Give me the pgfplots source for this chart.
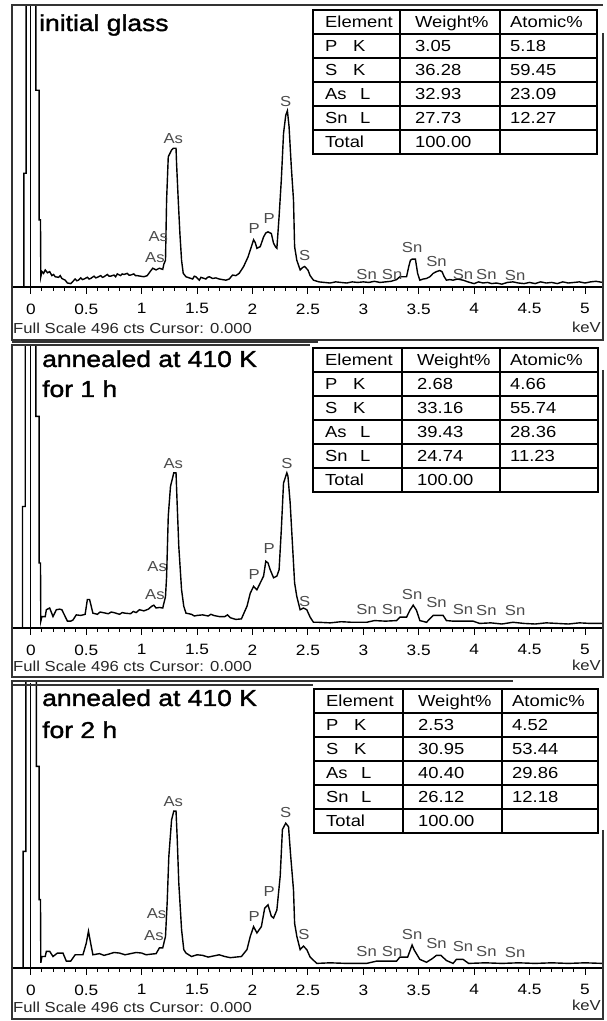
\documentclass[border=0pt]{standalone}
\usepackage{fontspec}
\setmainfont[FakeStretch=1.15]{Liberation Sans}
\newfontfamily\ttlfont[FakeStretch=1.15,FakeBold=1.5]{Liberation Sans}
\usepackage{pgfplots}
\pgfplotsset{compat=1.18}

\pgfplotstableread{
E c
-0.17 0
-0.063 0
-0.063 200
-0.042 200
-0.042 600
0.045 600
0.045 346
0.075 346
0.075 118
0.087 118
0.09 18
0.10 27
0.115 24
0.13 30
0.15 25
0.17 27
0.19 20
0.205 22
0.22 18
0.25 17
0.265 20
0.28 15
0.31 12
0.33 7
0.36 6
0.38 10
0.40 14
0.415 11
0.43 12
0.45 16
0.465 13
0.48 14
0.51 17
0.525 14
0.54 15
0.57 19
0.585 16
0.60 17
0.63 20
0.645 17
0.66 18
0.69 22
0.705 19
0.72 19
0.75 21
0.765 18
0.78 23
0.81 20
0.825 23
0.84 22
0.87 24
0.885 21
0.90 21
0.93 23
0.945 20
0.96 20
0.99 19
1.02 18
1.05 20
1.065 24
1.08 28
1.10 33
1.13 30
1.16 33
1.19 31
1.20 40
1.215 47
1.225 153
1.24 229
1.27 241
1.285 244
1.31 244
1.315 217
1.33 153
1.345 94
1.36 47
1.375 24
1.40 18
1.43 16
1.46 14
1.475 19
1.49 18
1.52 12
1.535 17
1.55 16
1.58 14
1.595 17
1.61 18
1.64 15
1.67 16
1.70 14
1.73 13
1.76 12
1.79 14
1.82 21
1.85 20
1.88 24
1.92 36
1.96 53
1.99 71
2.01 83
2.025 78
2.04 68
2.07 71
2.10 88
2.12 95
2.14 97
2.17 94
2.19 77
2.21 70
2.22 68
2.24 124
2.26 188
2.28 270
2.30 302
2.315 310
2.33 282
2.35 212
2.37 153
2.38 71
2.40 47
2.43 30
2.45 34
2.47 36
2.50 30
2.52 20
2.55 12
2.60 9
2.65 8
2.70 7
2.75 9
2.80 8
2.85 7
2.90 9
2.95 8
3.00 9
3.05 8
3.10 10
3.15 8
3.20 9
3.25 10
3.30 13
3.33 18
3.39 18
3.41 36
3.425 47
3.44 49
3.47 49
3.49 24
3.51 12
3.54 14
3.57 15
3.60 18
3.63 24
3.66 27
3.69 29
3.71 27
3.73 18
3.75 12
3.78 13
3.81 12
3.85 14
3.90 12
3.93 10
3.96 8
4.00 6
4.04 9
4.08 7
4.12 8
4.16 6
4.20 7
4.25 5
4.30 8
4.35 9
4.40 7
4.45 6
4.50 8
4.55 6
4.60 9
4.65 7
4.70 8
4.75 6
4.80 9
4.85 7
4.90 8
4.95 9
5.00 7
5.05 9
5.10 10
5.16 8
}\spA

\pgfplotstableread{
E c
-0.17 0
-0.075 0
-0.075 213
-0.05 213
-0.05 600
0.045 600
0.045 371
0.075 371
0.075 114
0.087 114
0.09 12
0.10 20
0.13 20
0.14 32
0.17 35
0.20 20
0.23 32
0.26 33
0.28 32
0.31 20
0.33 12
0.36 12
0.38 14
0.41 23
0.45 22
0.49 24
0.51 50
0.53 50
0.56 26
0.60 24
0.625 28
0.65 27
0.70 25
0.725 28
0.75 27
0.80 24
0.825 27
0.85 26
0.90 25
0.925 29
0.95 27
0.98 32
1.02 30
1.06 33
1.09 38
1.11 40
1.13 35
1.16 36
1.19 35
1.215 55
1.225 90
1.24 196
1.26 248
1.29 272
1.31 272
1.32 219
1.335 143
1.36 67
1.38 38
1.40 26
1.45 24
1.475 21
1.50 22
1.55 23
1.60 21
1.625 24
1.65 22
1.70 20
1.75 20
1.775 23
1.80 18
1.85 15
1.90 16
1.95 38
1.98 61
2.01 73
2.04 67
2.07 79
2.10 91
2.12 117
2.14 114
2.16 102
2.19 88
2.22 91
2.24 102
2.26 172
2.28 254
2.31 272
2.32 266
2.34 219
2.36 149
2.38 79
2.40 55
2.43 32
2.46 35
2.49 32
2.52 19
2.55 10
2.60 10
2.70 9
2.80 11
2.90 10
3.03 10
3.10 13
3.20 12
3.30 13
3.33 19
3.39 19
3.42 31
3.45 40
3.48 31
3.51 13
3.57 10
3.63 22
3.67 22
3.72 22
3.75 13
3.81 12
3.90 12
3.99 12
4.05 8
4.15 9
4.25 7
4.35 10
4.45 8
4.55 7
4.65 9
4.75 8
4.85 7
4.95 9
5.05 8
5.16 8
}\spB

\pgfplotstableread{
E c
-0.17 0
-0.07 0
-0.07 203
-0.045 203
-0.045 600
0.05 600
0.05 351
0.075 351
0.075 119
0.087 119
0.09 9
0.10 20
0.13 20
0.14 29
0.17 29
0.20 20
0.24 26
0.29 26
0.32 12
0.36 12
0.40 23
0.47 23
0.50 43
0.52 64
0.54 43
0.56 23
0.62 25
0.66 22
0.70 24
0.75 27
0.80 26
0.85 23
0.90 25
0.95 27
1.00 26
1.04 23
1.08 24
1.13 25
1.16 35
1.19 35
1.215 55
1.23 113
1.245 194
1.27 258
1.29 273
1.31 273
1.32 229
1.335 148
1.36 67
1.38 32
1.40 26
1.45 20
1.50 23
1.55 22
1.60 19
1.65 21
1.70 23
1.75 20
1.80 18
1.85 19
1.90 20
1.95 32
1.98 55
2.01 72
2.04 61
2.08 72
2.11 104
2.14 110
2.17 90
2.19 87
2.22 101
2.25 160
2.27 241
2.30 252
2.325 246
2.345 194
2.37 136
2.38 78
2.40 55
2.43 32
2.46 38
2.49 32
2.52 19
2.58 8
2.70 9
2.85 8
3.03 8
3.12 12
3.30 12
3.33 19
3.40 19
3.44 40
3.46 31
3.51 15
3.57 10
3.62 16
3.66 22
3.70 22
3.75 13
3.81 8
3.84 15
3.90 15
3.95 8
4.10 9
4.25 8
4.40 9
4.55 8
4.70 9
4.85 8
5.00 9
5.16 8
}\spC

\pgfplotsset{eds/.style={
  width=590.7pt, scale only axis, anchor=south west,
  xmin=-0.17, xmax=5.16, ymin=0, ymax=496,
  axis line style={draw=none},
  ytick=\empty,
  xtick={0,0.5,1,1.5,2,2.5,3,3.5,4,4.5,5},
  minor x tick num=4,
  xtick pos=left,
  tick align=outside,
  major tick length=7pt, minor tick length=4pt,
  every tick/.style={black, line width=0.9pt},
  xticklabel style={font=\fontsize{15}{17}\selectfont, text=black, yshift=-6pt},
  /pgf/number format/assume math mode=true,
  clip mode=individual,
}}
\tikzset{pk/.style={font=\fontsize{14.5}{15}\selectfont, text=black!70, inner sep=0pt},
  spec/.style={black, line width=1.4pt},
  frm/.style={black!80, line width=1.3pt},
  tbl/.style={black, line width=2pt},
  tt/.style={font=\fontsize{16}{17}\selectfont, anchor=base west, inner sep=0pt},
  ttl/.style={font=\ttlfont\fontsize{23}{26}\selectfont, anchor=base west, inner sep=0pt},
  small/.style={font=\fontsize{14.5}{16}\selectfont, inner sep=0pt, text=black!85}}

\begin{document}
\begin{tikzpicture}[x=1pt,y=1pt]
\useasboundingbox (0,0) rectangle (607,1021);

% ---------- panel 1
\begin{axis}[eds, at={(12pt,734pt)}, height=282pt]
\addplot[spec] table {\spA};
\addplot[black, line width=0.9pt] coordinates {(0,0) (0,496)};
\node[pk] at (axis cs:1.285,261) {As};
\node[pk] at (axis cs:2.30,326) {S};
\node[pk] at (axis cs:1.15,88) {As};
\node[pk] at (axis cs:1.12,52) {As};
\node[pk] at (axis cs:2.015,103) {P};
\node[pk] at (axis cs:2.15,121) {P};
\node[pk] at (axis cs:2.47,56) {S};
\node[pk] at (axis cs:3.03,22) {Sn};
\node[pk] at (axis cs:3.26,22) {Sn};
\node[pk] at (axis cs:3.44,70) {Sn};
\node[pk] at (axis cs:3.66,45) {Sn};
\node[pk] at (axis cs:3.90,22) {Sn};
\node[pk] at (axis cs:4.11,22) {Sn};
\node[pk] at (axis cs:4.37,20) {Sn};
\end{axis}

% ---------- panel 2
\begin{axis}[eds, at={(12pt,393pt)}, height=283pt]
\addplot[spec] table {\spB};
\addplot[black, line width=0.9pt] coordinates {(0,0) (0,496)};
\node[pk] at (axis cs:1.285,289) {As};
\node[pk] at (axis cs:2.31,289) {S};
\node[pk] at (axis cs:1.14,108) {As};
\node[pk] at (axis cs:1.12,58) {As};
\node[pk] at (axis cs:2.015,93) {P};
\node[pk] at (axis cs:2.15,139) {P};
\node[pk] at (axis cs:2.47,47) {S};
\node[pk] at (axis cs:3.03,33) {Sn};
\node[pk] at (axis cs:3.26,33) {Sn};
\node[pk] at (axis cs:3.44,59) {Sn};
\node[pk] at (axis cs:3.66,45) {Sn};
\node[pk] at (axis cs:3.90,33) {Sn};
\node[pk] at (axis cs:4.11,31) {Sn};
\node[pk] at (axis cs:4.37,31) {Sn};
\end{axis}

% ---------- panel 3
\begin{axis}[eds, at={(12pt,53pt)}, height=285pt]
\addplot[spec] table {\spC};
\addplot[black, line width=0.9pt] coordinates {(0,0) (0,496)};
\node[pk] at (axis cs:1.285,290) {As};
\node[pk] at (axis cs:2.30,270) {S};
\node[pk] at (axis cs:1.134,94) {As};
\node[pk] at (axis cs:1.11,57) {As};
\node[pk] at (axis cs:2.015,90) {P};
\node[pk] at (axis cs:2.15,133) {P};
\node[pk] at (axis cs:2.465,58) {S};
\node[pk] at (axis cs:3.03,28) {Sn};
\node[pk] at (axis cs:3.26,28) {Sn};
\node[pk] at (axis cs:3.44,59) {Sn};
\node[pk] at (axis cs:3.66,42) {Sn};
\node[pk] at (axis cs:3.90,38) {Sn};
\node[pk] at (axis cs:4.11,28) {Sn};
\node[pk] at (axis cs:4.37,27) {Sn};
\end{axis}

% ---------- baselines
\draw[black, line width=1.3pt] (12,734) -- (603,734);
\draw[black, line width=1.3pt] (12,393) -- (603,393);
\draw[black, line width=1.3pt] (12,53) -- (603,53);

% ---------- frames
\draw[frm] (603,988) -- (603,681) -- (12,681) -- (12,1016) -- (603,1016);
\draw[frm] (603,651) -- (603,344) -- (12,344) -- (12,676) -- (310,676);
\draw[frm] (12,679) -- (318,679);
\draw[frm] (603,191) -- (603,2) -- (12,2) -- (12,340) -- (513,340);
\draw[frm] (12,336) -- (313,336);

% ---------- titles
\node[ttl] at (39,990) {initial glass};
\node[ttl] at (42,654) {annealed at 410 K};
\node[ttl] at (42,624) {for 1 h};
\node[ttl] at (42,315) {annealed at 410 K};
\node[ttl] at (42,283) {for 2 h};

% ---------- Full scale / keV
\foreach \b in {687,349,9} {
  \node[small, anchor=base west] at (13,\b) {Full Scale 496 cts Cursor: 0.000};
  \node[small, anchor=base east] at (601,\b+1) {keV};
}

% ---------- tables
\foreach \top/\xa/\xb/\xc/\xd/\pk/\pa/\sk/\sa/\ak/\aa/\nk/\na in {
  1011/313/400/500/597/3.05/5.18/36.28/59.45/32.93/23.09/27.73/12.27,
  673/313/402/500/598/2.68/4.66/33.16/55.74/39.43/28.36/24.74/11.23,
  332/314/403/502/598/2.53/4.52/30.95/53.44/40.40/29.86/26.12/12.18} {
  \draw[tbl] (\xa,\top) rectangle (\xd,\top-144);
  \foreach \r in {1,...,5} {\draw[tbl] (\xa,\top-24*\r) -- (\xd,\top-24*\r);}
  \draw[tbl] (\xb,\top) -- (\xb,\top-144);
  \draw[tbl] (\xc,\top) -- (\xc,\top-144);
  \node[tt] at (\xa+12,\top-18) {Element};
  \node[tt] at (\xb+15,\top-18) {Weight\%};
  \node[tt] at (\xc+10,\top-18) {Atomic\%};
  \node[tt] at (\xa+12,\top-42) {P};  \node[tt] at (\xa+40,\top-42) {K};
  \node[tt] at (\xa+12,\top-66) {S};  \node[tt] at (\xa+40,\top-66) {K};
  \node[tt] at (\xa+12,\top-90) {As}; \node[tt] at (\xa+47,\top-90) {L};
  \node[tt] at (\xa+12,\top-114) {Sn}; \node[tt] at (\xa+47,\top-114) {L};
  \node[tt] at (\xa+12,\top-138) {Total};
  \node[tt] at (\xb+15,\top-42) {\pk};
  \node[tt] at (\xb+15,\top-66) {\sk};
  \node[tt] at (\xb+15,\top-90) {\ak};
  \node[tt] at (\xb+15,\top-114) {\nk};
  \node[tt] at (\xb+15,\top-138) {100.00};
  \node[tt] at (\xc+10,\top-42) {\pa};
  \node[tt] at (\xc+10,\top-66) {\sa};
  \node[tt] at (\xc+10,\top-90) {\aa};
  \node[tt] at (\xc+10,\top-114) {\na};
}
\end{tikzpicture}
\end{document}
